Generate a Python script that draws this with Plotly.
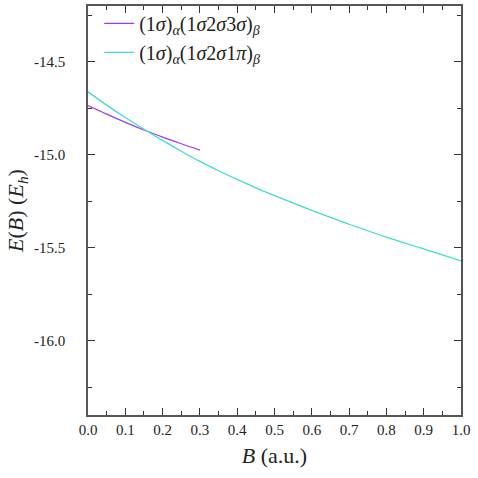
import plotly.graph_objects as go

# Data
b_sigma = [0.00, 0.05, 0.10, 0.15, 0.20, 0.25, 0.30]
e_sigma = [-14.736, -14.782, -14.826, -14.867, -14.905, -14.941, -14.975]

b_pi = [0.00, 0.05, 0.10, 0.15, 0.20, 0.25, 0.30, 0.35, 0.40, 0.45, 0.50,
        0.55, 0.60, 0.65, 0.70, 0.75, 0.80, 0.85, 0.90, 0.95, 1.00]
e_pi = [-14.662, -14.733, -14.800, -14.863, -14.923, -14.981, -15.036, -15.086,
        -15.133, -15.178, -15.220, -15.260, -15.299, -15.337, -15.374, -15.409,
        -15.443, -15.475, -15.507, -15.539, -15.571]

x_ticks = [0.0, 0.1, 0.2, 0.3, 0.4, 0.5, 0.6, 0.7, 0.8, 0.9, 1.0]
x_ticklabels = ["0.0", "0.1", "0.2", "0.3", "0.4", "0.5", "0.6", "0.7", "0.8", "0.9", "1.0"]
y_ticks = [-14.5, -15.0, -15.5, -16.0]
y_ticklabels = ["-14.5", "-15.0", "-15.5", "-16.0"]

name_sigma = "(1<i>σ</i>)<sub><i>α</i></sub>(1<i>σ</i>2<i>σ</i>3<i>σ</i>)<sub><i>β</i></sub>"
name_pi = "(1<i>σ</i>)<sub><i>α</i></sub>(1<i>σ</i>2<i>σ</i>1<i>π</i>)<sub><i>β</i></sub>"

FONT = "'Liberation Serif', 'DejaVu Serif', serif"

fig = go.Figure()
fig.add_trace(go.Scatter(x=b_sigma, y=e_sigma, mode="lines", name=name_sigma,
                         line=dict(color="#9b3cf0", width=1.3, shape="spline")))
fig.add_trace(go.Scatter(x=b_pi, y=e_pi, mode="lines", name=name_pi,
                         line=dict(color="#40dcd2", width=1.3, shape="spline")))

axis_common = dict(
    showgrid=False, zeroline=False, showline=True, linecolor="#555555", linewidth=1.5,
    mirror="ticks", ticks="inside", ticklen=7, tickwidth=1.2, tickcolor="#333333",
    tickfont=dict(family=FONT, size=15, color="#222222"),
)

fig.update_layout(
    width=478, height=478,
    margin=dict(l=88, r=17, t=4, b=63),
    paper_bgcolor="white", plot_bgcolor="white",
    font=dict(family=FONT, color="#222222"),
    showlegend=True,
    legend=dict(x=0.03, y=1.005, xanchor="left", yanchor="top",
                bgcolor="rgba(255,255,255,0)", borderwidth=0,
                font=dict(family=FONT, size=20, color="#222222"),
                tracegroupgap=0, itemwidth=30),
    xaxis=dict(range=[0, 1], tickmode="array", tickvals=x_ticks, ticktext=x_ticklabels,
               minor=dict(dtick=0.05, ticks="inside", ticklen=4, tickcolor="#333333"),
               title=dict(text="<i>B</i> (a.u.)", font=dict(family=FONT, size=22), standoff=11),
               **axis_common),
    yaxis=dict(range=[-16.4, -14.2], tickmode="array", tickvals=y_ticks, ticktext=y_ticklabels,
               minor=dict(dtick=0.25, ticks="inside", ticklen=4, tickcolor="#333333"),
               title=dict(text="<i>E</i>(<i>B</i>) (<i>E<sub>h</sub></i>)",
                          font=dict(family=FONT, size=22), standoff=4),
               ticklabelstandoff=18,
               **axis_common),
)

fig.write_html("out.html")
